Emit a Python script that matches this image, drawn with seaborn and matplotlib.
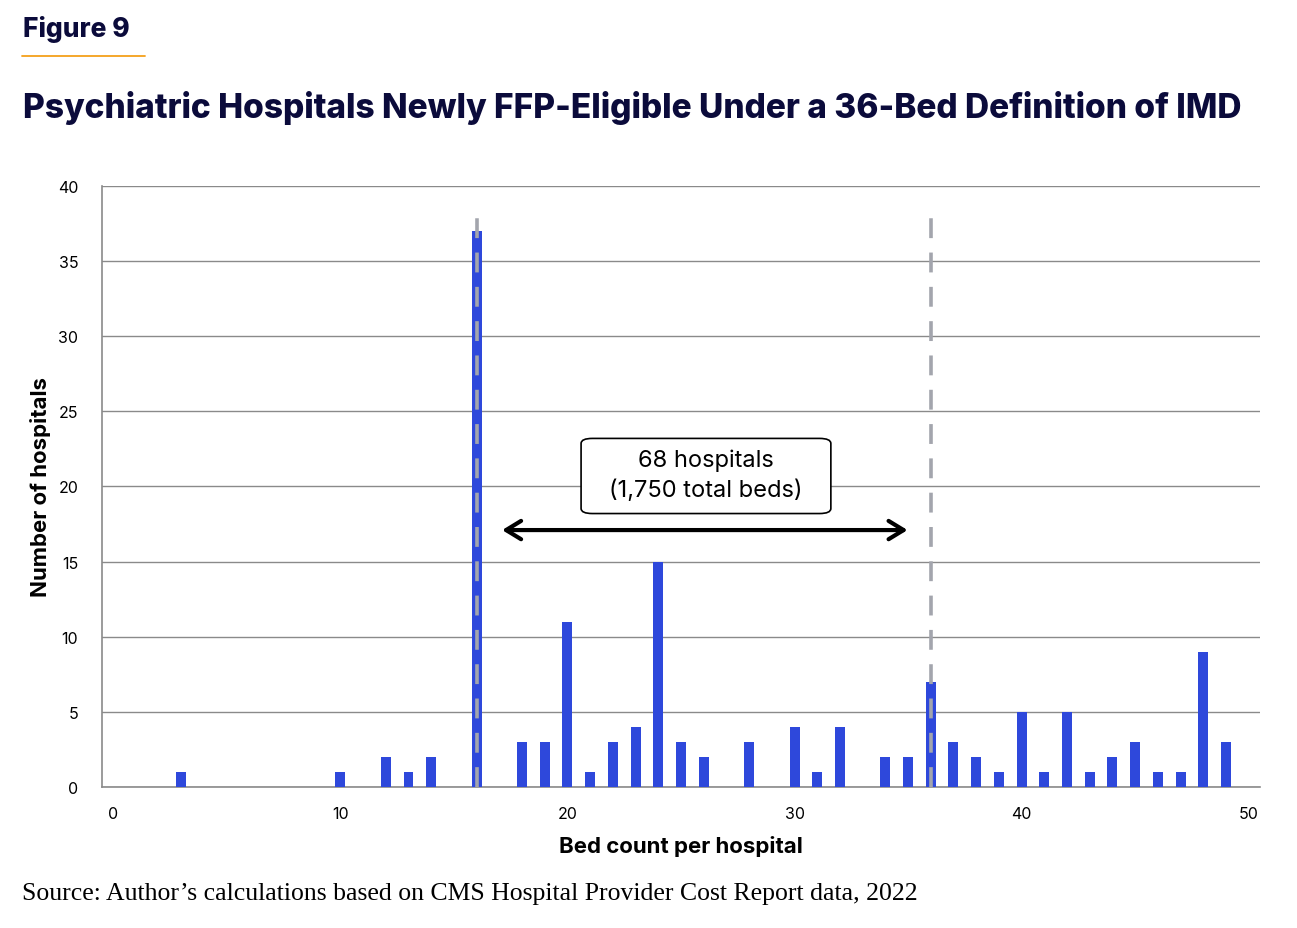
import matplotlib
matplotlib.use("Agg")
import matplotlib.pyplot as plt
import seaborn as sns
import pandas as pd
from matplotlib.patches import FancyBboxPatch

# bed counts and number of hospitals with that count
beds = [3, 10, 12, 13, 14, 16, 18, 19, 20, 21, 22, 23, 24, 25, 26, 28, 30, 31, 32,
        34, 35, 36, 37, 38, 39, 40, 41, 42, 43, 44, 45, 46, 47, 48, 49]
hospitals = [1, 1, 2, 1, 2, 37, 3, 3, 11, 1, 3, 4, 15, 3, 2, 3, 4, 1, 4,
             2, 2, 7, 3, 2, 1, 5, 1, 5, 1, 2, 3, 1, 1, 9, 3]
cutoffs = [16, 36]
x_ticks = [0, 10, 20, 30, 40, 50]
y_ticks = [0, 5, 10, 15, 20, 25, 30, 35, 40]

df = pd.DataFrame({"beds": beds, "hospitals": hospitals})

sns.set_theme(style="white")
plt.rcParams["font.family"] = ["Inter", "DejaVu Sans"]
plt.rcParams["text.color"] = "black"

navy = "#0B0B3B"
blue = "#2E48DB"
grid = "#8A8A8A"

fig = plt.figure(figsize=(12.97, 9.29), dpi=100)
ax = fig.add_axes([0.0786, 0.1518, 0.8929, 0.6469])

ax.bar(df["beds"], df["hospitals"], width=0.44, color=blue, linewidth=0, zorder=3)

for c in cutoffs:
    ax.plot([c, c], [0, 38.3], color="#A3A5AD", lw=2.6, ls=(0, (5.5, 4)), zorder=4)

ax.set_xlim(-0.5, 50.5)
ax.set_ylim(0, 40)
ax.set_xticks(x_ticks)
ax.set_yticks(y_ticks)
ax.yaxis.grid(True, color=grid, lw=1)
ax.xaxis.grid(False)
ax.set_axisbelow(True)
for s in ["top", "right"]:
    ax.spines[s].set_visible(False)
for s in ["left", "bottom"]:
    ax.spines[s].set_color(grid)
    ax.spines[s].set_linewidth(1.2)
ax.tick_params(axis="both", length=0, labelsize=11.5, colors="black")
ax.tick_params(axis="x", pad=14)
ax.tick_params(axis="y", pad=17)

ax.set_xlabel("Bed count per hospital", fontsize=16, fontweight="bold", labelpad=10, color="black")
ax.set_ylabel("Number of hospitals", fontsize=16, fontweight="bold", labelpad=5, color="black")

# range arrow and label box
ax.annotate("", xy=(35.1, 17.1), xytext=(17.0, 17.1),
            arrowprops=dict(arrowstyle="<->,head_length=0.9,head_width=0.55", lw=3, color="black"),
            zorder=5)
box = FancyBboxPatch((20.6, 18.2), 11.0, 5.0, boxstyle="round,pad=0,rounding_size=0.5",
                     transform=ax.transData, facecolor="white", edgecolor="black",
                     lw=1.2, zorder=5, mutation_aspect=1 / 1.5)
ax.add_patch(box)
ax.text(26.1, 21.8, "68 hospitals", ha="center", va="center", fontsize=17, color="black", zorder=6)
ax.text(26.1, 19.75, "(1,750 total beds)", ha="center", va="center", fontsize=17, color="black", zorder=6)

fig.text(0.018, 0.968, "Figure 9", fontsize=19, fontweight="heavy", color=navy, va="center")
fig.add_artist(plt.Line2D([0.017, 0.112], [0.939, 0.939], color="#F5A01A", lw=1.3))
fig.text(0.018, 0.884, "Psychiatric Hospitals Newly FFP-Eligible Under a 36-Bed Definition of IMD",
         fontsize=24.1, fontweight="heavy", color=navy, va="center")
fig.text(0.017, 0.038, "Source: Author\u2019s calculations based on CMS Hospital Provider Cost Report data, 2022",
         fontsize=18.5, family=["Liberation Serif", "DejaVu Serif"], color="black", va="center")

fig.savefig("out.png", dpi=100)
plt.close(fig)
